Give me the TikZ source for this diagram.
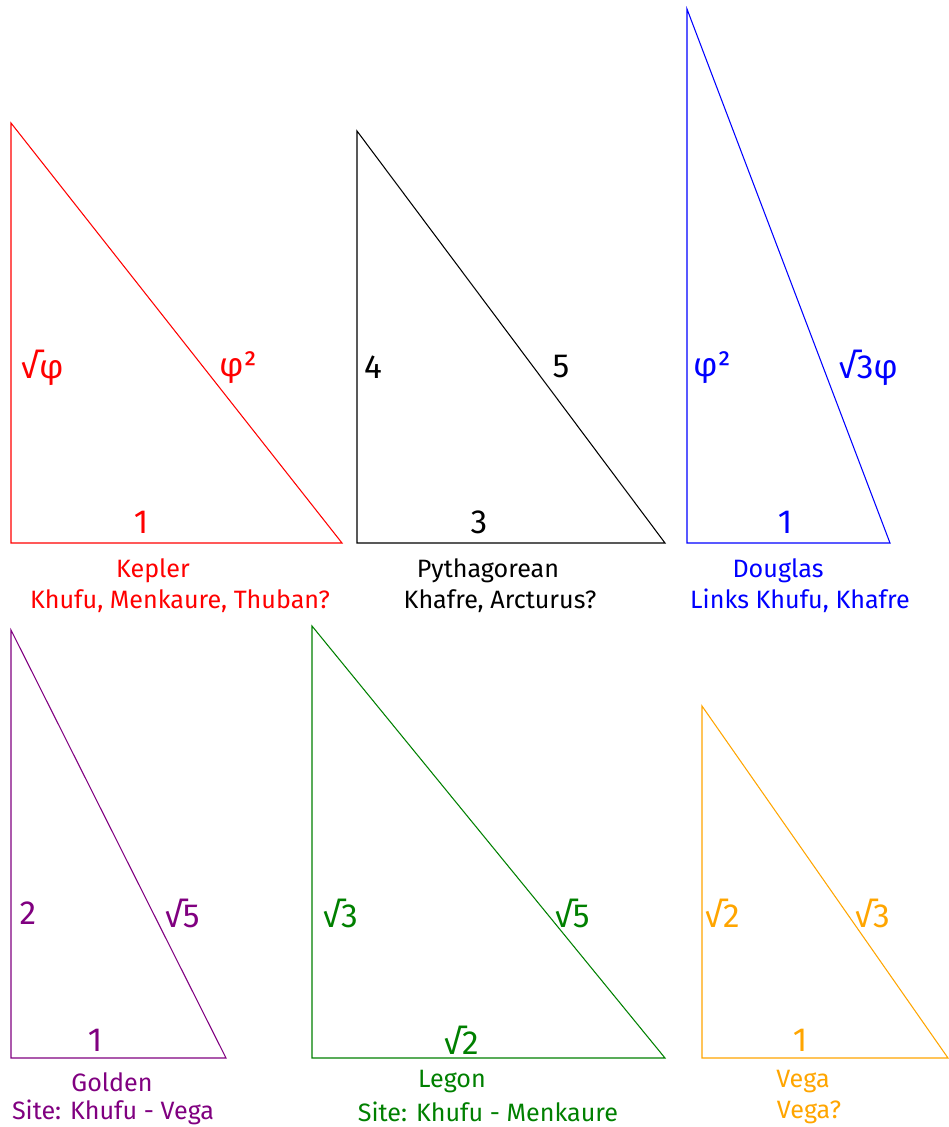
\documentclass[tikz,border=0pt]{standalone}
\usepackage{fontspec}
\setmainfont{Fira Sans}
\usetikzlibrary{positioning}
\definecolor{kred}{RGB}{255,0,0}
\definecolor{pblack}{RGB}{0,0,0}
\definecolor{dblue}{RGB}{0,0,255}
\definecolor{gpurple}{RGB}{128,0,128}
\definecolor{lgreen}{RGB}{0,128,0}
\definecolor{vorange}{RGB}{255,165,0}
\tikzset{
  tri/.style={line width=0.6pt,line join=miter},
  side/.style={font=\fontsize{19}{21}\selectfont,inner sep=0pt},
  caption/.style={font=\fontsize{14.3}{16}\selectfont,align=center,inner sep=0pt}
}
\begin{document}
\begin{tikzpicture}[x=0.02cm,y=-0.02cm]
\path[use as bounding box] (0,0) rectangle (949,1127);
% Kepler
\coordinate (kA) at (11,543); \coordinate (kB) at (11,123); \coordinate (kC) at (342,543);
\draw[tri,kred] (kA) -- (kB) -- (kC) -- cycle;
\node[side,text=kred] (kh) at (42,368) {√φ};
\node[side,text=kred] (kd) at (238,368) {φ²};
\node[side,text=kred] (kb) at (141,522) {1};
\node[caption,text=kred] (kname) at (153,571) {Kepler};
\node[caption,text=kred] (kuse) at (180,601) {Khufu, Menkaure, Thuban?};
% Pythagorean
\coordinate (pA) at (357,543); \coordinate (pB) at (357,131); \coordinate (pC) at (665,543);
\draw[tri,pblack] (pA) -- (pB) -- (pC) -- cycle;
\node[side,text=pblack] (ph) at (373,367) {4};
\node[side,text=pblack] (pd) at (561,367) {5};
\node[side,text=pblack] (pb) at (479,522) {3};
\node[caption,text=pblack] (pname) at (488,571) {Pythagorean};
\node[caption,text=pblack] (puse) at (500,601) {Khafre, Arcturus?};
% Douglas
\coordinate (dA) at (687,543); \coordinate (dB) at (687,9); \coordinate (dC) at (890,543);
\draw[tri,dblue] (dA) -- (dB) -- (dC) -- cycle;
\node[side,text=dblue] (dh) at (712,368) {φ²};
\node[side,text=dblue] (dd) at (868,368) {√3φ};
\node[side,text=dblue] (db) at (785,522) {1};
\node[caption,text=dblue] (dname) at (778,571) {Douglas};
\node[caption,text=dblue] (duse) at (800,601) {Links Khufu, Khafre};
% Golden
\coordinate (gA) at (11,1058); \coordinate (gB) at (11,630); \coordinate (gC) at (226,1058);
\draw[tri,gpurple] (gA) -- (gB) -- (gC) -- cycle;
\node[side,text=gpurple] (gh) at (28,913) {2};
\node[side,text=gpurple] (gd) at (182,913) {√5};
\node[side,text=gpurple] (gb) at (95,1040) {1};
\node[caption,text=gpurple] (gname) at (112,1082) {Golden};
\node[caption,text=gpurple] (guse) at (113,1112) {Site: Khufu - Vega};
% Legon
\coordinate (lA) at (312,1058); \coordinate (lB) at (312,626); \coordinate (lC) at (665,1058);
\draw[tri,lgreen] (lA) -- (lB) -- (lC) -- cycle;
\node[side,text=lgreen] (lh) at (340,913) {√3};
\node[side,text=lgreen] (ld) at (572,913) {√5};
\node[side,text=lgreen] (lb) at (461,1040) {√2};
\node[caption,text=lgreen] (lname) at (452,1082) {Legon};
\node[caption,text=lgreen] (luse) at (488,1112) {Site: Khufu - Menkaure};
% Vega
\coordinate (vA) at (702,1058); \coordinate (vB) at (702,706); \coordinate (vC) at (948,1058);
\draw[tri,vorange] (vA) -- (vB) -- (vC) -- cycle;
\node[side,text=vorange] (vh) at (722,913) {√2};
\node[side,text=vorange] (vd) at (872,913) {√3};
\node[side,text=vorange] (vb) at (800,1040) {1};
\node[caption,text=vorange] (vname) at (803,1082) {Vega};
\node[caption,text=vorange] (vuse) at (809,1112) {Vega?};
\end{tikzpicture}
\end{document}
